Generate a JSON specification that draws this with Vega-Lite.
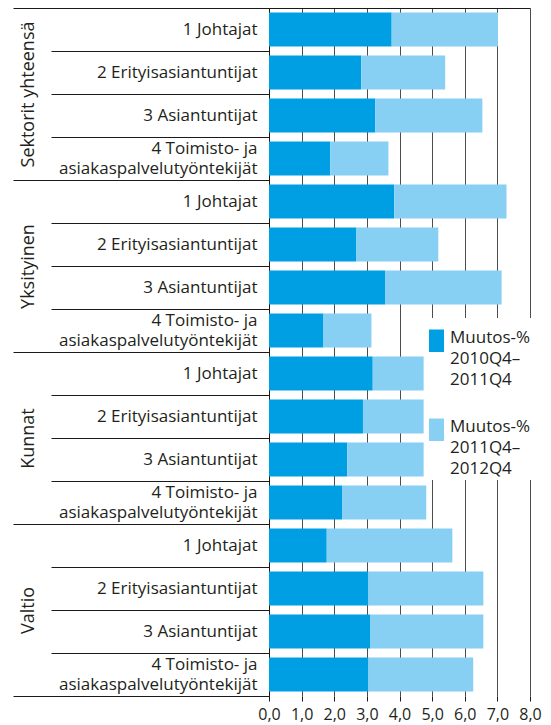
{
  "$schema": "https://vega.github.io/schema/vega-lite/v6.json",
  "autosize": {"type": "none"},
  "width": 261,
  "height": 688,
  "padding": {"left": 269, "top": 8, "right": 21, "bottom": 29},
  "config": {
    "font": "Open Sans",
    "view": {"stroke": null},
    "style": {"guide-label": {"lineHeight": 21}}
  },
  "data": {
    "values": [
      {"sektori": "Sektorit yhteensä", "rivi": "Sektorit yhteensä|1 Johtajat", "jakso": "Muutos-% 2010Q4–2011Q4", "arvo": 3.76},
      {"sektori": "Sektorit yhteensä", "rivi": "Sektorit yhteensä|1 Johtajat", "jakso": "Muutos-% 2011Q4–2012Q4", "arvo": 3.26},
      {"sektori": "Sektorit yhteensä", "rivi": "Sektorit yhteensä|2 Erityisasiantuntijat", "jakso": "Muutos-% 2010Q4–2011Q4", "arvo": 2.83},
      {"sektori": "Sektorit yhteensä", "rivi": "Sektorit yhteensä|2 Erityisasiantuntijat", "jakso": "Muutos-% 2011Q4–2012Q4", "arvo": 2.57},
      {"sektori": "Sektorit yhteensä", "rivi": "Sektorit yhteensä|3 Asiantuntijat", "jakso": "Muutos-% 2010Q4–2011Q4", "arvo": 3.26},
      {"sektori": "Sektorit yhteensä", "rivi": "Sektorit yhteensä|3 Asiantuntijat", "jakso": "Muutos-% 2011Q4–2012Q4", "arvo": 3.28},
      {"sektori": "Sektorit yhteensä", "rivi": "Sektorit yhteensä|4 Toimisto- ja/asiakaspalvelutyöntekijät", "jakso": "Muutos-% 2010Q4–2011Q4", "arvo": 1.88},
      {"sektori": "Sektorit yhteensä", "rivi": "Sektorit yhteensä|4 Toimisto- ja/asiakaspalvelutyöntekijät", "jakso": "Muutos-% 2011Q4–2012Q4", "arvo": 1.78},
      {"sektori": "Yksityinen", "rivi": "Yksityinen|1 Johtajat", "jakso": "Muutos-% 2010Q4–2011Q4", "arvo": 3.84},
      {"sektori": "Yksityinen", "rivi": "Yksityinen|1 Johtajat", "jakso": "Muutos-% 2011Q4–2012Q4", "arvo": 3.44},
      {"sektori": "Yksityinen", "rivi": "Yksityinen|2 Erityisasiantuntijat", "jakso": "Muutos-% 2010Q4–2011Q4", "arvo": 2.68},
      {"sektori": "Yksityinen", "rivi": "Yksityinen|2 Erityisasiantuntijat", "jakso": "Muutos-% 2011Q4–2012Q4", "arvo": 2.51},
      {"sektori": "Yksityinen", "rivi": "Yksityinen|3 Asiantuntijat", "jakso": "Muutos-% 2010Q4–2011Q4", "arvo": 3.57},
      {"sektori": "Yksityinen", "rivi": "Yksityinen|3 Asiantuntijat", "jakso": "Muutos-% 2011Q4–2012Q4", "arvo": 3.56},
      {"sektori": "Yksityinen", "rivi": "Yksityinen|4 Toimisto- ja/asiakaspalvelutyöntekijät", "jakso": "Muutos-% 2010Q4–2011Q4", "arvo": 1.67},
      {"sektori": "Yksityinen", "rivi": "Yksityinen|4 Toimisto- ja/asiakaspalvelutyöntekijät", "jakso": "Muutos-% 2011Q4–2012Q4", "arvo": 1.47},
      {"sektori": "Kunnat", "rivi": "Kunnat|1 Johtajat", "jakso": "Muutos-% 2010Q4–2011Q4", "arvo": 3.18},
      {"sektori": "Kunnat", "rivi": "Kunnat|1 Johtajat", "jakso": "Muutos-% 2011Q4–2012Q4", "arvo": 1.56},
      {"sektori": "Kunnat", "rivi": "Kunnat|2 Erityisasiantuntijat", "jakso": "Muutos-% 2010Q4–2011Q4", "arvo": 2.88},
      {"sektori": "Kunnat", "rivi": "Kunnat|2 Erityisasiantuntijat", "jakso": "Muutos-% 2011Q4–2012Q4", "arvo": 1.86},
      {"sektori": "Kunnat", "rivi": "Kunnat|3 Asiantuntijat", "jakso": "Muutos-% 2010Q4–2011Q4", "arvo": 2.40},
      {"sektori": "Kunnat", "rivi": "Kunnat|3 Asiantuntijat", "jakso": "Muutos-% 2011Q4–2012Q4", "arvo": 2.34},
      {"sektori": "Kunnat", "rivi": "Kunnat|4 Toimisto- ja/asiakaspalvelutyöntekijät", "jakso": "Muutos-% 2010Q4–2011Q4", "arvo": 2.25},
      {"sektori": "Kunnat", "rivi": "Kunnat|4 Toimisto- ja/asiakaspalvelutyöntekijät", "jakso": "Muutos-% 2011Q4–2012Q4", "arvo": 2.57},
      {"sektori": "Valtio", "rivi": "Valtio|1 Johtajat", "jakso": "Muutos-% 2010Q4–2011Q4", "arvo": 1.77},
      {"sektori": "Valtio", "rivi": "Valtio|1 Johtajat", "jakso": "Muutos-% 2011Q4–2012Q4", "arvo": 3.85},
      {"sektori": "Valtio", "rivi": "Valtio|2 Erityisasiantuntijat", "jakso": "Muutos-% 2010Q4–2011Q4", "arvo": 3.05},
      {"sektori": "Valtio", "rivi": "Valtio|2 Erityisasiantuntijat", "jakso": "Muutos-% 2011Q4–2012Q4", "arvo": 3.52},
      {"sektori": "Valtio", "rivi": "Valtio|3 Asiantuntijat", "jakso": "Muutos-% 2010Q4–2011Q4", "arvo": 3.11},
      {"sektori": "Valtio", "rivi": "Valtio|3 Asiantuntijat", "jakso": "Muutos-% 2011Q4–2012Q4", "arvo": 3.46},
      {"sektori": "Valtio", "rivi": "Valtio|4 Toimisto- ja/asiakaspalvelutyöntekijät", "jakso": "Muutos-% 2010Q4–2011Q4", "arvo": 3.05},
      {"sektori": "Valtio", "rivi": "Valtio|4 Toimisto- ja/asiakaspalvelutyöntekijät", "jakso": "Muutos-% 2011Q4–2012Q4", "arvo": 3.21}
    ]
  },
  "layer": [
    {
      "mark": {"type": "bar", "opacity": 0},
      "encoding": {
        "y": {
          "field": "sektori", "type": "nominal", "sort": null,
          "scale": {"paddingInner": 0, "paddingOuter": 0},
          "axis": {
            "orient": "left", "title": null, "domain": false,
            "tickBand": "extent", "tickSize": 256, "tickColor": "#1a1a1a", "tickWidth": 1,
            "labelAngle": -90, "labelAlign": "center", "labelBaseline": "middle",
            "labelPadding": -15, "labelFontSize": 18, "labelColor": "#231f20", "labelLimit": 0
          }
        },
        "x": {
          "field": "arvo", "type": "quantitative", "stack": null,
          "scale": {"domain": [0, 8], "nice": false},
          "axis": {"orient": "top", "title": null, "ticks": false, "labels": false, "grid": false, "domain": true, "domainColor": "#1a1a1a"}
        }
      }
    },
    {
      "mark": {"type": "bar", "opacity": 0},
      "encoding": {
        "y": {
          "field": "rivi", "type": "nominal", "sort": null,
          "scale": {"paddingInner": 0, "paddingOuter": 0},
          "axis": {
            "orient": "left", "title": null, "domain": false,
            "tickSize": 218, "tickOpacity": 0,
            "labelPadding": -206, "labelLimit": 0, "labelFontSize": 17, "labelColor": "#231f20",
            "labelLineHeight": 20, "labelOffset": -10,
            "labelExpr": "indexof(datum.label, '/') < 0 ? '' : split(split(datum.label, '|')[1], '/')"
          }
        },
        "x": {
          "field": "arvo", "type": "quantitative", "stack": null,
          "scale": {"domain": [0, 8], "nice": false},
          "axis": null
        }
      }
    },
    {
      "mark": {"type": "bar", "height": {"band": 0.79}},
      "encoding": {
        "y": {
          "field": "rivi", "type": "nominal", "sort": null,
          "scale": {"paddingInner": 0, "paddingOuter": 0},
          "axis": {
            "orient": "left", "title": null, "domain": true, "domainColor": "#1a1a1a",
            "tickBand": "extent", "tickSize": 218, "tickColor": "#1a1a1a",
            "labelPadding": -206, "labelLimit": 0, "labelFontSize": 17, "labelColor": "#231f20",
            "labelExpr": "indexof(datum.label, '|') < 0 || indexof(datum.label, '/') >= 0 ? '' : split(datum.label, '|')[1]"
          }
        },
        "x": {
          "field": "arvo", "type": "quantitative", "stack": "zero",
          "scale": {"domain": [0, 8], "nice": false},
          "axis": {
            "orient": "bottom", "title": null, "domain": false,
            "values": [0, 1, 2, 3, 4, 5, 6, 7, 8],
            "grid": true, "gridColor": "#4d4d4d", "gridWidth": 1,
            "tickSize": 5, "tickColor": "#1a1a1a", "labelPadding": 5,
            "labelOverlap": false, "labelFlush": false,
            "labelFontSize": 16, "labelColor": "#231f20",
            "labelExpr": "replace(format(datum.value, '.1f'), '.', ',')"
          }
        },
        "color": {
          "field": "jakso", "type": "nominal",
          "scale": {"range": ["#009fe3", "#88cff4"]},
          "legend": {
            "title": null, "orient": "none", "legendX": 156, "legendY": 310,
            "padding": 3, "fillColor": "white",
            "symbolType": "M-1,0L1,0L1,3L-1,3Z", "symbolSize": 225, "symbolStrokeWidth": 0,
            "labelBaseline": "top", "labelOffset": 5, "labelFontSize": 17, "labelColor": "#231f20",
            "labelLimit": 0, "rowPadding": 22,
            "labelExpr": "[split(datum.label, ' ')[0], split(split(datum.label, ' ')[1], '–')[0] + '–', split(split(datum.label, ' ')[1], '–')[1]]"
          }
        }
      }
    }
  ],
  "resolve": {"scale": {"y": "independent"}, "axis": {"y": "independent", "x": "independent"}}
}
